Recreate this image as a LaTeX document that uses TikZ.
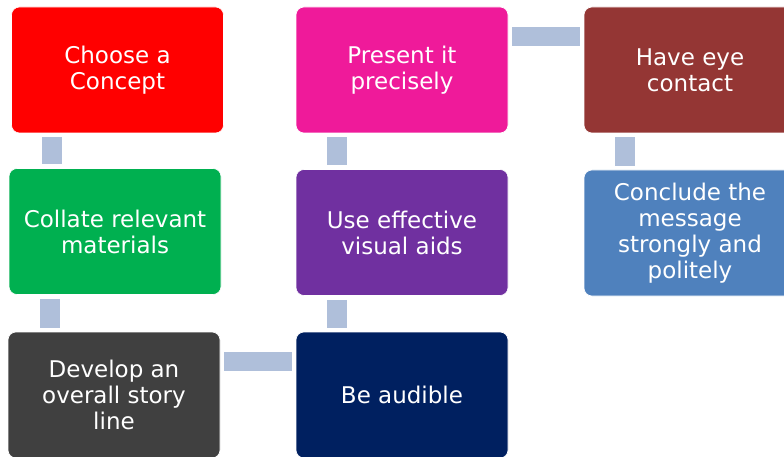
\documentclass[tikz,border=0pt]{standalone}
\usepackage{fontspec}
\setmainfont{DejaVu Sans}
\definecolor{stepred}{HTML}{FF0000}
\definecolor{steppink}{HTML}{EF1A9A}
\definecolor{stepbrown}{HTML}{943634}
\definecolor{stepgreen}{HTML}{00B050}
\definecolor{steppurple}{HTML}{7030A0}
\definecolor{stepblue}{HTML}{4F81BD}
\definecolor{stepgrey}{HTML}{404040}
\definecolor{stepnavy}{HTML}{002060}
\definecolor{linkcol}{HTML}{AFBFDA}
\begin{document}
\begin{tikzpicture}[x=1pt, y=-1pt,
    every node/.style={rectangle, rounded corners=8pt, draw=white, line width=0.6pt,
        minimum width=212pt, minimum height=126pt, inner sep=0pt, align=center,
        text=white, font=\fontsize{23}{26}\selectfont},
    link/.style={linkcol, line width=20pt, shorten <=4pt, shorten >=4pt}]
\useasboundingbox (0,0) rectangle (784,457);
\clip (0,0) rectangle (784,457);
    \node[fill=stepred]    (choose)   at (117.5,70)  {Choose a\\Concept};
    \node[fill=steppink]   (present)  at (402,70)    {Present it\\precisely};
    \node[fill=stepbrown]  (eye)      at (690,70)    {Have eye\\contact};
    \node[fill=stepgreen]  (collate)  at (115,231.5) {Collate relevant\\materials};
    \node[fill=steppurple] (visual)   at (402,232.5) {Use effective\\visual aids};
    \node[fill=stepblue]   (conclude) at (690,233)   {Conclude the\\message\\strongly and\\politely};
    \node[fill=stepgrey]   (develop)  at (114,395)   {Develop an\\overall story\\line};
    \node[fill=stepnavy]   (audible)  at (402,395)   {Be audible};
    \foreach \from/\to in {choose/collate, collate/develop, present/visual, visual/audible, eye/conclude}
        \draw[link] ([xshift=41pt]\from.south west) -- ([xshift=41pt]\from.south west |- \to.north);
    \foreach \from/\to in {develop/audible, present/eye}
        \draw[link, line width=19pt] ([yshift=-30pt]\from.north east) -- ([yshift=-30pt]\from.north east -| \to.west);
\end{tikzpicture}
\end{document}
